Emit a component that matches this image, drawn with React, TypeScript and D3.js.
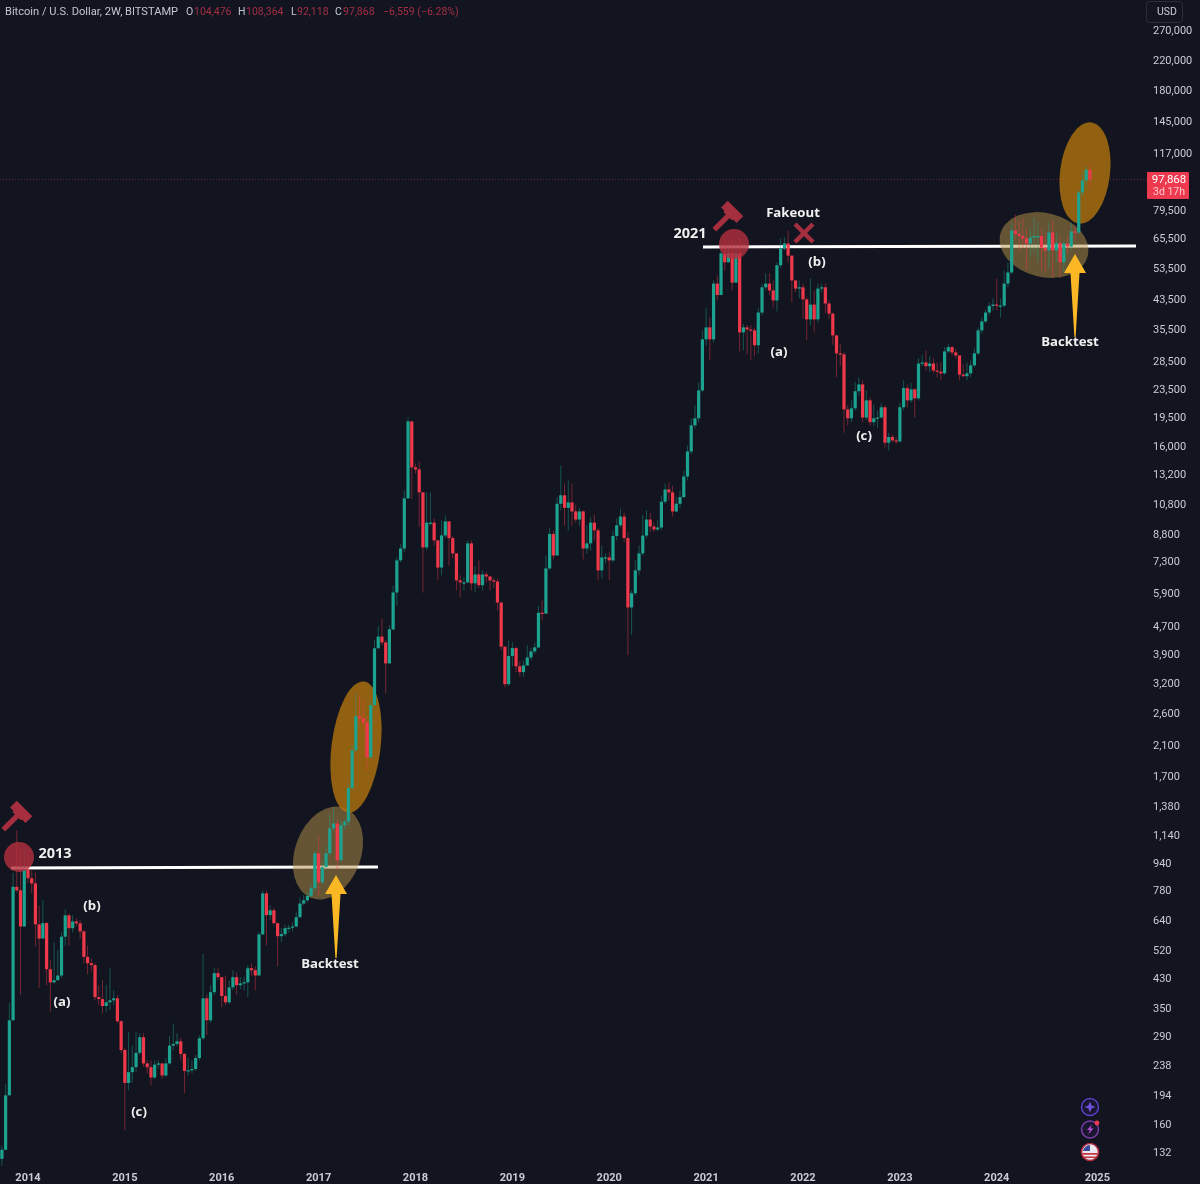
import * as d3 from 'd3'
import React from 'react'

const WIDTH = 1200
const HEIGHT = 1184

const firstCandle = new Date(2013, 9, 7)
const firstOpen = 126

// bitstamp 2W candles, opens follow the previous close
const closes = [
  134,194,323,800,781,611,901,848,819,620,
  563,625,457,418,424,438,570,659,604,632,
  624,591,497,476,470,378,373,356,365,370,
  375,321,264,211,227,235,259,288,241,235,
  219,239,241,222,241,272,275,280,257,229,
  230,232,250,286,375,323,391,445,433,381,
  365,404,433,410,415,418,460,454,438,579,
  765,660,682,625,572,580,604,606,611,651,
  714,730,752,792,1005,825,915,1005,1190,1230,
  958,1215,1245,1565,2022,2550,2515,2445,1930,2750,
  4045,4380,4210,3650,4600,5910,7351,7970,11200,18900,
  13830,13640,11670,8030,9500,9500,8421,7000,8710,9580,
  8550,7710,6417,6330,6330,8250,6290,6680,6210,6680,
  6590,6417,6370,5520,4090,3170,3840,4050,3580,3440,
  3600,3800,3960,4070,5150,5120,6960,8800,7600,10800,
  11440,10500,10900,10250,9700,10250,7970,8250,9500,9013,
  6868,7500,7500,7351,8680,9330,9900,8550,5340,5880,
  6868,7710,8700,9700,9250,9070,9190,10950,11900,11670,
  10250,10800,11300,13000,15400,18400,19300,23330,33000,35800,
  33000,48200,44600,59200,55700,59200,48500,59200,34600,35800,
  35300,35070,31700,39600,47000,48200,46010,42990,54600,61200,
  63300,58300,49250,46600,47000,43300,37800,41800,37800,46600,
  47000,42100,39300,33900,30000,29800,20500,19300,20650,23200,
  24300,19400,21800,18800,19300,19400,20800,16350,17000,16610,
  16500,20800,23700,21800,23500,22100,28000,28200,27500,28000,
  26700,26500,26200,30400,31300,30200,29600,25970,25700,26200,
  27650,30000,35070,37300,39600,41400,41800,41500,41500,48200,
  52000,69160,67500,66600,65500,63300,65900,66600,66600,61500,
  60380,68200,60380,63500,55700,63300,62000,68700,68200,89500,
  97140,104476,97868,
]

const highs = [
  138,209,363,880,1174,1025,1047,1025,895,882,
  704,730,630,486,548,520,587,687,668,660,
  646,637,595,537,492,476,410,424,410,460,
  396,383,323,268,298,272,298,296,296,246,
  246,246,246,241,250,290,316,296,287,259,
  250,246,255,292,508,385,410,460,460,433,
  438,424,454,447,433,433,470,476,466,587,
  781,781,706,692,628,604,618,618,628,673,
  745,757,770,815,1025,1135,958,1053,1310,1375,
  1270,1257,1270,1615,2095,2980,2940,2840,2550,2840,
  4269,4700,4960,4269,4730,6200,7500,8200,11827,19400,
  18900,14200,14400,11670,11670,11670,9780,8421,9650,9980,
  9580,8700,7710,6640,6550,8421,8421,7050,7351,6868,
  6790,6590,6550,6500,5520,4090,4269,4210,4090,3700,
  3727,4130,4050,4210,5400,5602,7600,9150,9013,11300,
  14000,12400,12650,12400,10700,10500,10325,9350,9850,10000,
  9150,8130,7700,7760,9013,9780,10450,10180,8900,5996,
  7351,8130,10000,10325,10150,9500,9650,11400,12400,12480,
  12220,11300,11827,13548,16050,19300,21100,24600,35070,40950,
  38300,49250,50900,63200,64600,63800,64620,63200,65500,36700,
  36400,36300,35800,40950,48200,51700,51700,49250,55700,65500,
  66000,69160,58300,49250,49250,48200,43900,49900,46010,48200,
  48200,48200,42990,39600,33900,32000,30200,21100,21800,24700,
  25500,24970,23330,22250,21200,20370,21400,21100,17500,17300,
  17000,21400,24970,24300,24600,23700,29000,29700,30610,29400,
  29000,28200,28200,31300,32000,31600,31000,29400,27900,28200,
  28600,31000,35800,38300,40400,42400,43600,49900,43600,52710,
  55700,73000,77000,74000,75500,70000,70000,75500,73000,70000,
  68200,73000,74000,68200,66600,64600,66600,73000,71500,90760,
  102500,107000,108364,
]

const lows = [
  120,134,194,323,770,384,611,820,765,533,
  402,563,409,341,415,424,431,537,537,587,
  611,563,476,441,450,370,358,339,341,346,
  358,318,259,153,201,211,227,255,236,225,
  208,217,233,217,220,239,264,271,246,197,
  222,225,229,246,282,292,318,384,424,354,
  358,361,396,384,399,396,378,438,396,438,
  576,537,637,618,466,550,572,587,591,608,
  646,706,720,741,781,752,815,901,985,1174,
  895,945,1174,1215,1541,1995,2400,2316,1765,1930,
  2750,4045,4130,2980,3650,4569,5400,7250,7760,11200,
  11160,13270,9250,5910,7868,9300,8130,6417,6640,8550,
  7100,7450,5996,5720,5996,6290,5996,5910,6090,5996,
  6330,5996,6090,5234,3988,3100,3130,3580,3440,3330,
  3330,3630,3727,3900,4050,4890,5120,6868,7400,7600,
  10325,9300,9013,9300,9500,9300,7400,7710,7868,8421,
  6417,6500,7200,6417,7250,8421,9200,8300,3860,4430,
  5800,6640,7600,8550,8900,8900,8950,9013,10800,11050,
  9900,10200,10500,11200,12650,15100,18000,18800,23000,31600,
  28600,32300,42990,45100,52700,55700,46010,48500,30400,30610,
  29800,28600,29400,30000,38800,46010,44500,41000,39900,53500,
  60380,55700,42400,45400,43600,38000,32770,36300,34600,36900,
  45400,39500,38000,31800,25500,27600,17500,18400,18800,20370,
  22500,18800,19030,18300,18300,18100,19300,15800,15520,16400,
  16200,16350,20370,20800,21500,19400,21800,27500,26720,26400,
  26200,25500,25000,25970,30000,29600,29000,24970,25500,24970,
  25500,27300,29600,34300,36800,38800,40170,40170,38300,41000,
  47000,51400,64620,60000,61500,52700,57600,59000,55700,52700,
  52000,53500,50000,55700,50000,52000,59000,60380,64620,67500,
  87000,93000,92118,
]

const priceTicks = [
  270000,220000,180000,145000,117000,79500,65500,53500,43500,35500,28500,23500,19500,
  16000,13200,10800,8800,7300,5900,4700,3900,3200,2600,2100,1700,1380,1140,940,780,
  640,520,430,350,290,238,194,160,132,
]

const legendValues = [
  { key: 'O', value: '104,476', keyX: 186, valueX: 194 },
  { key: 'H', value: '108,364', keyX: 238, valueX: 246 },
  { key: 'L', value: '92,118', keyX: 291, valueX: 297 },
  { key: 'C', value: '97,868', keyX: 335, valueX: 343 },
]

const GREEN = '#1fa38f'
const RED = '#f0394c'
const BG = '#12151f'
const MARK = '#a52f3f'
const AXIS_TEXT = '#c9ccd4'
const FONT = "Roboto, 'Noto Sans', sans-serif"
const NOTE_FONT = "'Open Sans', 'Noto Sans', sans-serif"

const x = d3.scaleLinear().domain([0, closes.length - 1]).range([1.9, 1089.9])
const y = d3.scaleLog().domain([132, 270000]).range([1152, 30])

const dateAt = (i: number) => d3.timeDay.offset(firstCandle, i * 14)

// first candle of every year gets the label, like the tradingview axis
const yearTicks: { year: number; i: number }[] = []
for (let i = 1; i < closes.length + 4; i++) {
  const yr = dateAt(i).getFullYear()
  if (yr !== dateAt(i - 1).getFullYear()) yearTicks.push({ year: yr, i })
}

const candles = closes.map((close, i) => {
  const open = i === 0 ? firstOpen : closes[i - 1]
  return { i, open, close, high: highs[i], low: lows[i], up: close >= open }
})

const fmt = d3.format(',')
const lastClose = closes[closes.length - 1]

const Note = ({ px, py, size = 13.2, children }: any) => (
  <text x={px} y={py} fill="#f0f0f0" fontFamily={NOTE_FONT} fontWeight={700} fontSize={size} textAnchor="middle" dominantBaseline="middle">
    {children}
  </text>
)

// px,py is the middle of the hammer head
const Gavel = ({ px, py }: any) => (
  <g transform={`translate(${px},${py}) rotate(-45)`} fill={MARK}>
    <rect x={-25} y={-2.6} width={22} height={5.2} />
    <rect x={-4.5} y={-11} width={9.5} height={22} />
    <rect x={-6} y={-6} width={2} height={12} />
  </g>
)

const Arrow = ({ tipX, tipY, headY, endY, half }: any) => (
  <path
    d={`M${tipX},${tipY} L${tipX + half},${headY} L${tipX + 4.5},${headY} L${tipX + 0.6},${endY} L${tipX - 0.6},${endY} L${tipX - 4.5},${headY} L${tipX - half},${headY} Z`}
    fill="#fbb824"
  />
)

const App = () => {
  const bodyW = 3.2
  return (
    <svg width={WIDTH} height={HEIGHT} style={{ position: 'absolute', left: 0, top: 0, background: BG, display: 'block' }}>
      <defs>
        <filter id="soft" x="-2%" y="-2%" width="104%" height="104%">
          <feGaussianBlur stdDeviation="0.35" />
        </filter>
      </defs>

      {/* current price line */}
      <line x1={0} x2={1147} y1={y(lastClose)} y2={y(lastClose)} stroke="#7d2c3a" strokeWidth={1} strokeDasharray="1 2" opacity={0.8} />

      {/* resistance lines */}
      <line x1={11} y1={868} x2={378} y2={867} stroke="#fff" strokeWidth={3} />
      <line x1={703} y1={247} x2={1136} y2={246} stroke="#fff" strokeWidth={3} />

      {/* highlights */}
      <ellipse cx={328} cy={853} rx={33} ry={48} transform="rotate(20 328 853)" fill="#b8954a" opacity={0.5} />
      <ellipse cx={356} cy={747} rx={24.5} ry={66} transform="rotate(7 356 747)" fill="#ad710f" opacity={0.82} />
      <ellipse cx={1044} cy={245} rx={45} ry={32} transform="rotate(14 1044 245)" fill="#b8954a" opacity={0.5} />
      <ellipse cx={1085} cy={173} rx={25} ry={51} transform="rotate(7 1085 173)" fill="#ad710f" opacity={0.82} />

      {/* candles */}
      <g filter="url(#soft)">
        {candles.map((c) => (
          <g key={c.i}>
            <line x1={x(c.i)} x2={x(c.i)} y1={y(c.high)} y2={y(c.low)} stroke={c.up ? GREEN : RED} strokeWidth={1} opacity={0.45} />
            <rect
              x={x(c.i) - bodyW / 2}
              y={Math.min(y(c.open), y(c.close))}
              width={bodyW}
              height={Math.max(1.2, Math.abs(y(c.open) - y(c.close)))}
              fill={c.up ? GREEN : RED}
            />
          </g>
        ))}
      </g>

      {/* top markers */}
      <circle cx={19} cy={857} r={15} fill="#b5303f" opacity={0.8} />
      <circle cx={734} cy={244} r={15} fill="#b5303f" opacity={0.8} />
      <Gavel px={21} py={812} />
      <Gavel px={732} py={212} />
      <g stroke={MARK} strokeWidth={4.5}>
        <line x1={795} x2={813} y1={224} y2={242} />
        <line x1={813} x2={795} y1={224} y2={242} />
      </g>

      {/* arrows */}
      <Arrow tipX={336} tipY={875} headY={894} endY={958} half={11} />
      <Arrow tipX={1075} tipY={254} headY={273} endY={337} half={11} />

      {/* notes */}
      <Note px={55} py={854} size={14.5}>2013</Note>
      <Note px={690} py={234} size={14.5}>2021</Note>
      <Note px={793} py={213}>Fakeout</Note>
      <Note px={92} py={906}>(b)</Note>
      <Note px={62} py={1002}>(a)</Note>
      <Note px={139} py={1112}>(c)</Note>
      <Note px={779} py={352}>(a)</Note>
      <Note px={817} py={262}>(b)</Note>
      <Note px={864} py={436}>(c)</Note>
      <Note px={330} py={964}>Backtest</Note>
      <Note px={1070} py={342}>Backtest</Note>

      {/* header */}
      <g fontFamily={FONT} fontSize={10.5} dominantBaseline="middle">
        <text x={5} y={12} fill="#c4c7cf" fontSize={11.1}>Bitcoin / U.S. Dollar, 2W, BITSTAMP</text>
        {legendValues.map((d) => (
          <g key={d.key}>
            <text x={d.keyX} y={12} fill="#c4c7cf">{d.key}</text>
            <text x={d.valueX} y={12} fill="#a32f45">{d.value}</text>
          </g>
        ))}
        <text x={383} y={12} fill="#a32f45">−6,559 (−6.28%)</text>
      </g>

      {/* price axis */}
      <g fontFamily={FONT} fontSize={11} fill={AXIS_TEXT} dominantBaseline="middle">
        {priceTicks.map((t) => (
          <text key={t} x={1153} y={y(t) + 1}>{fmt(t)}</text>
        ))}
      </g>
      <rect x={1146.5} y={1.5} width={36} height={21} rx={3} fill={BG} stroke="#2a2e39" />
      <text x={1167} y={12.5} fill={AXIS_TEXT} fontFamily={FONT} fontSize={10.5} textAnchor="middle" dominantBaseline="middle">USD</text>

      <rect x={1147} y={172} width={42} height={27} rx={1} fill="#ee3a4e" />
      <text x={1169} y={180} fill="#fff" fontFamily={FONT} fontSize={11.5} textAnchor="middle" dominantBaseline="middle">{fmt(lastClose)}</text>
      <text x={1169} y={192} fill="#ffc9cf" fontFamily={FONT} fontSize={10.5} textAnchor="middle" dominantBaseline="middle">3d 17h</text>

      {/* time axis */}
      <g fontFamily={FONT} fontSize={11} fontWeight={700} fill={AXIS_TEXT} textAnchor="middle" dominantBaseline="middle">
        {yearTicks.map((t) => (
          <text key={t.year} x={x(t.i)} y={1178}>{t.year}</text>
        ))}
      </g>

      {/* bottom right icons */}
      <circle cx={1090} cy={1107} r={8.5} fill="#1a1630" stroke="#5a3fc8" strokeWidth={1.5} />
      <path d="M1090,1101.5 L1091.6,1105.4 L1095.5,1107 L1091.6,1108.6 L1090,1112.5 L1088.4,1108.6 L1084.5,1107 L1088.4,1105.4 Z" fill="#6d4fe0" />
      <circle cx={1090} cy={1129.5} r={8.5} fill="#1a1630" stroke="#7a3fa8" strokeWidth={1.5} />
      <path d="M1092,1124.5 L1087,1130 L1090,1130 L1088,1134.5 L1093.5,1128.5 L1090.5,1128.5 Z" fill="#b84fd8" />
      <circle cx={1097} cy={1123} r={2.4} fill="#ef3a4e" />
      <circle cx={1090} cy={1152} r={8.5} fill="#e8e8ee" stroke="#b02a3a" strokeWidth={1.6} />
      <path d="M1082.5,1153 h15 v1.7 h-15 Z M1083.5,1156.5 h13 v1.6 h-13 Z" fill="#c8323f" />
      <path d="M1083,1151 a8,8 0 0 1 7,-6 v6 Z" fill="#3a4a9a" />
    </svg>
  )
}

export default App
